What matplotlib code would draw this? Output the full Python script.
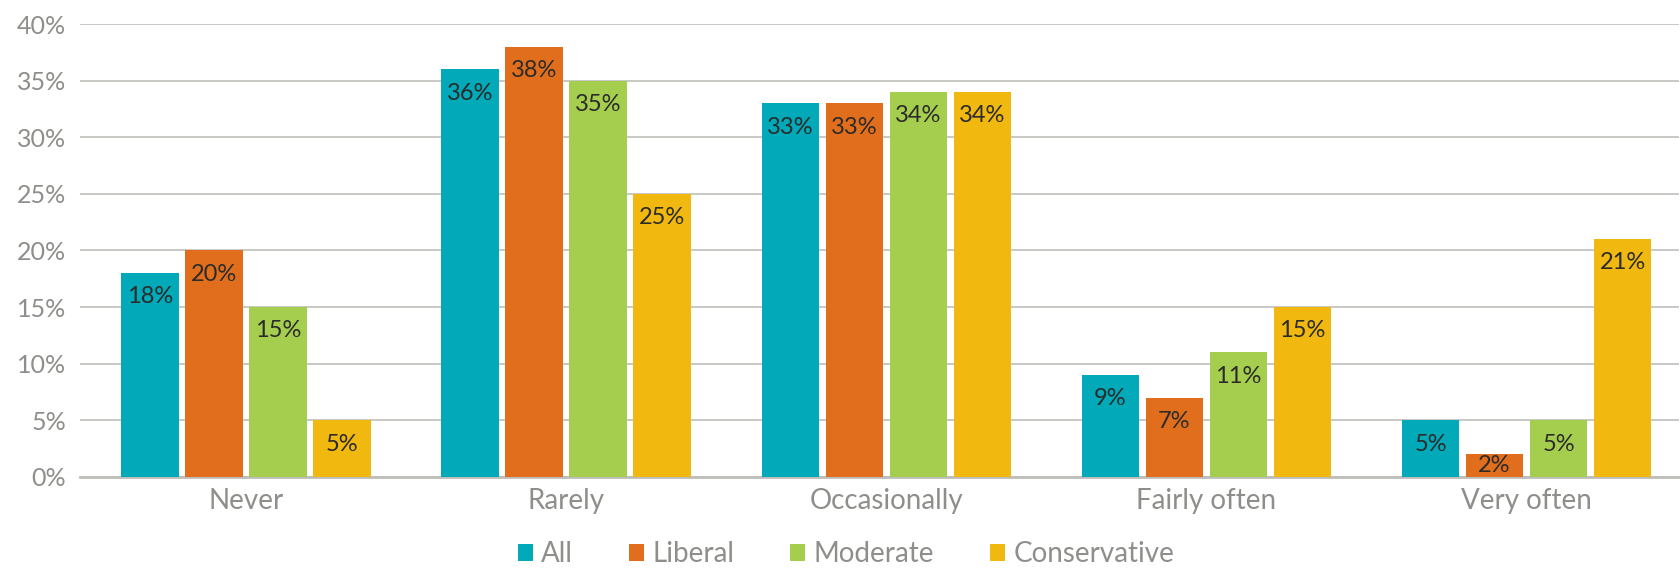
import matplotlib
matplotlib.use("Agg")
import matplotlib.pyplot as plt
import numpy as np

plt.rcParams["font.family"] = ["Lato", "DejaVu Sans"]

categories = ["Never", "Rarely", "Occasionally", "Fairly often", "Very often"]
series_names = ["All", "Liberal", "Moderate", "Conservative"]
all_vals = [18, 36, 33, 9, 5]
liberal_vals = [20, 38, 33, 7, 2]
moderate_vals = [15, 35, 34, 11, 5]
conservative_vals = [5, 25, 34, 15, 21]
colors = ["#02A9B8", "#E06E1C", "#A6CE4E", "#F1B810"]
grey = "#8E8E8A"

fig = plt.figure(figsize=(16.81, 5.68), dpi=100)
ax = fig.add_axes([80 / 1681, 91 / 568, 1599 / 1681, 453 / 568])

x = np.arange(len(categories))
bar_w = 0.18
step = 0.2
values = [all_vals, liberal_vals, moderate_vals, conservative_vals]

for i, (name, vals, col) in enumerate(zip(series_names, values, colors)):
    pos = x + (i - 1.5) * step
    bars = ax.bar(pos, vals, width=bar_w, color=col, label=name, zorder=3)
    for b, v in zip(bars, vals):
        # label just under the bar top, or centred if the bar is too short
        ly = max(v - 2.1, v / 2)
        ax.text(b.get_x() + b.get_width() / 2, ly, f"{v}%",
                ha="center", va="center", fontsize=17, color="#2b2b2b",
                zorder=4)

ax.set_xlim(-0.519, 4.476)
ax.set_ylim(0, 40)
ax.set_yticks(range(0, 41, 5))
ax.set_yticklabels([f"{t}%" for t in range(0, 41, 5)])
ax.set_xticks(x)
ax.set_xticklabels(categories)
ax.yaxis.grid(True, color="#C4C4C0", linewidth=1.3, zorder=0)
ax.tick_params(axis="both", length=0, colors=grey)
ax.tick_params(axis="y", pad=10, labelsize=18)
ax.tick_params(axis="x", pad=8, labelsize=20)
for side in ["top", "right", "left"]:
    ax.spines[side].set_visible(False)
ax.spines["bottom"].set_color("#BDBDBA")
ax.spines["bottom"].set_linewidth(2)

fig.legend(loc="center", bbox_to_anchor=(846 / 1681, 1 - 554 / 568), ncol=4,
           frameon=False, prop={"size": 20},
           handlelength=0.55, handleheight=0.55, handletextpad=0.3,
           columnspacing=2.0, labelcolor=grey)

fig.savefig("out.png", dpi=100)
